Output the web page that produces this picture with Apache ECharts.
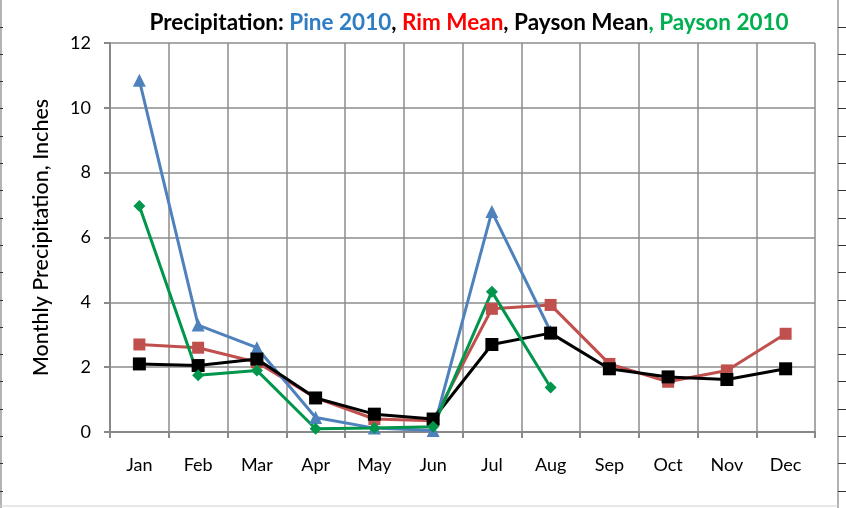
<!DOCTYPE html>
<html>
<head>
<meta charset="utf-8">
<script src="https://cdn.jsdelivr.net/npm/echarts@6/dist/echarts.min.js"></script>
<style>
  html, body { margin: 0; padding: 0; background: #fff; }
  #chart { width: 846px; height: 508px; }
</style>
</head>
<body>
<div id="chart"></div>
<script>
// data
var months = ['Jan', 'Feb', 'Mar', 'Apr', 'May', 'Jun', 'Jul', 'Aug', 'Sep', 'Oct', 'Nov', 'Dec'];
var pine2010 = [10.85, 3.3, 2.6, 0.45, 0.12, 0.05, 6.8, 3.1, null, null, null, null];
var rimMean = [2.7, 2.6, 2.15, 1.05, 0.4, 0.35, 3.8, 3.92, 2.1, 1.55, 1.9, 3.03];
var paysonMean = [2.1, 2.05, 2.25, 1.05, 0.55, 0.4, 2.7, 3.05, 1.95, 1.7, 1.62, 1.95];
var payson2010 = [6.97, 1.75, 1.9, 0.1, 0.12, 0.16, 4.33, 1.37, null, null, null, null];

var chart = echarts.init(document.getElementById('chart'));

// spreadsheet cell lines leaking in at the edges
var deco = [];
deco.push({ type: 'line', shape: { x1: 1, y1: 0, x2: 1, y2: 508 }, style: { stroke: '#9a9a9a', lineWidth: 1.5 } });
deco.push({ type: 'line', shape: { x1: 838, y1: 0, x2: 838, y2: 508 }, style: { stroke: '#9a9a9a', lineWidth: 1.5 } });
deco.push({ type: 'line', shape: { x1: 0, y1: 506, x2: 838, y2: 506 }, style: { stroke: '#d0d0d0', lineWidth: 1 } });
for (var y = 26.5; y < 508; y += 27.3) {
  deco.push({ type: 'line', shape: { x1: 838, y1: Math.round(y) + 0.5, x2: 846, y2: Math.round(y) + 0.5 }, style: { stroke: '#333', lineWidth: 1 } });
  deco.push({ type: 'line', shape: { x1: 0, y1: Math.round(y) + 0.5, x2: 3, y2: Math.round(y) + 0.5 }, style: { stroke: '#333', lineWidth: 1 } });
}

var font = 'Lato, Open Sans, sans-serif';

var option = {
  animation: false,
  backgroundColor: '#fff',
  graphic: deco,
  title: {
    left: 464,
    textAlign: 'center',
    top: 6,
    text: '{k|Precipitation: }{b|Pine 2010}{k|, }{r|Rim Mean}{k|, Payson Mean}{g|, Payson 2010}',
    textStyle: {
      rich: {
        k: { color: '#000', fontSize: 22.5, fontWeight: 'bold', fontFamily: font },
        b: { color: '#2f7ec4', fontSize: 22.5, fontWeight: 'bold', fontFamily: font },
        r: { color: '#ff0000', fontSize: 22.5, fontWeight: 'bold', fontFamily: font },
        g: { color: '#00b050', fontSize: 22.5, fontWeight: 'bold', fontFamily: font }
      }
    }
  },
  grid: { left: 110, right: 31, top: 43, bottom: 76 },
  xAxis: {
    type: 'category',
    data: months,
    boundaryGap: true,
    axisLine: { lineStyle: { color: '#888', width: 2 } },
    axisTick: { show: true, length: 6, lineStyle: { color: '#888', width: 2 } },
    axisLabel: { color: '#000', fontSize: 18, fontFamily: font, margin: 24 },
    splitLine: { show: true, lineStyle: { color: '#8c8c8c', width: 1.5 } }
  },
  yAxis: {
    type: 'value',
    min: 0, max: 12, interval: 2,
    name: 'Monthly Precipitation, Inches',
    nameLocation: 'middle',
    nameGap: 58,
    nameTextStyle: { color: '#000', fontSize: 21.5, fontFamily: font, fontWeight: 500 },
    axisLine: { show: true, lineStyle: { color: '#888', width: 2 } },
    axisTick: { show: true, length: 6, lineStyle: { color: '#888', width: 2 } },
    axisLabel: { color: '#000', fontSize: 18, fontFamily: font, margin: 19 },
    splitLine: { show: true, lineStyle: { color: '#8c8c8c', width: 1.5 } }
  },
  series: [
    {
      name: 'Rim Mean', type: 'line', data: rimMean,
      symbol: 'rect', symbolSize: 12,
      lineStyle: { color: '#c0504d', width: 3 },
      itemStyle: { color: '#c0504d' }
    },
    {
      name: 'Pine 2010', type: 'line', data: pine2010,
      symbol: 'triangle', symbolSize: 13,
      lineStyle: { color: '#4f81bd', width: 3 },
      itemStyle: { color: '#4f81bd' }
    },
    {
      name: 'Payson Mean', type: 'line', data: paysonMean,
      symbol: 'rect', symbolSize: 13,
      lineStyle: { color: '#000', width: 3 },
      itemStyle: { color: '#000' }
    },
    {
      name: 'Payson 2010', type: 'line', data: payson2010,
      symbol: 'diamond', symbolSize: 12,
      lineStyle: { color: '#00964b', width: 3 },
      itemStyle: { color: '#00964b' }
    }
  ]
};
chart.setOption(option);
</script>
</body>
</html>
